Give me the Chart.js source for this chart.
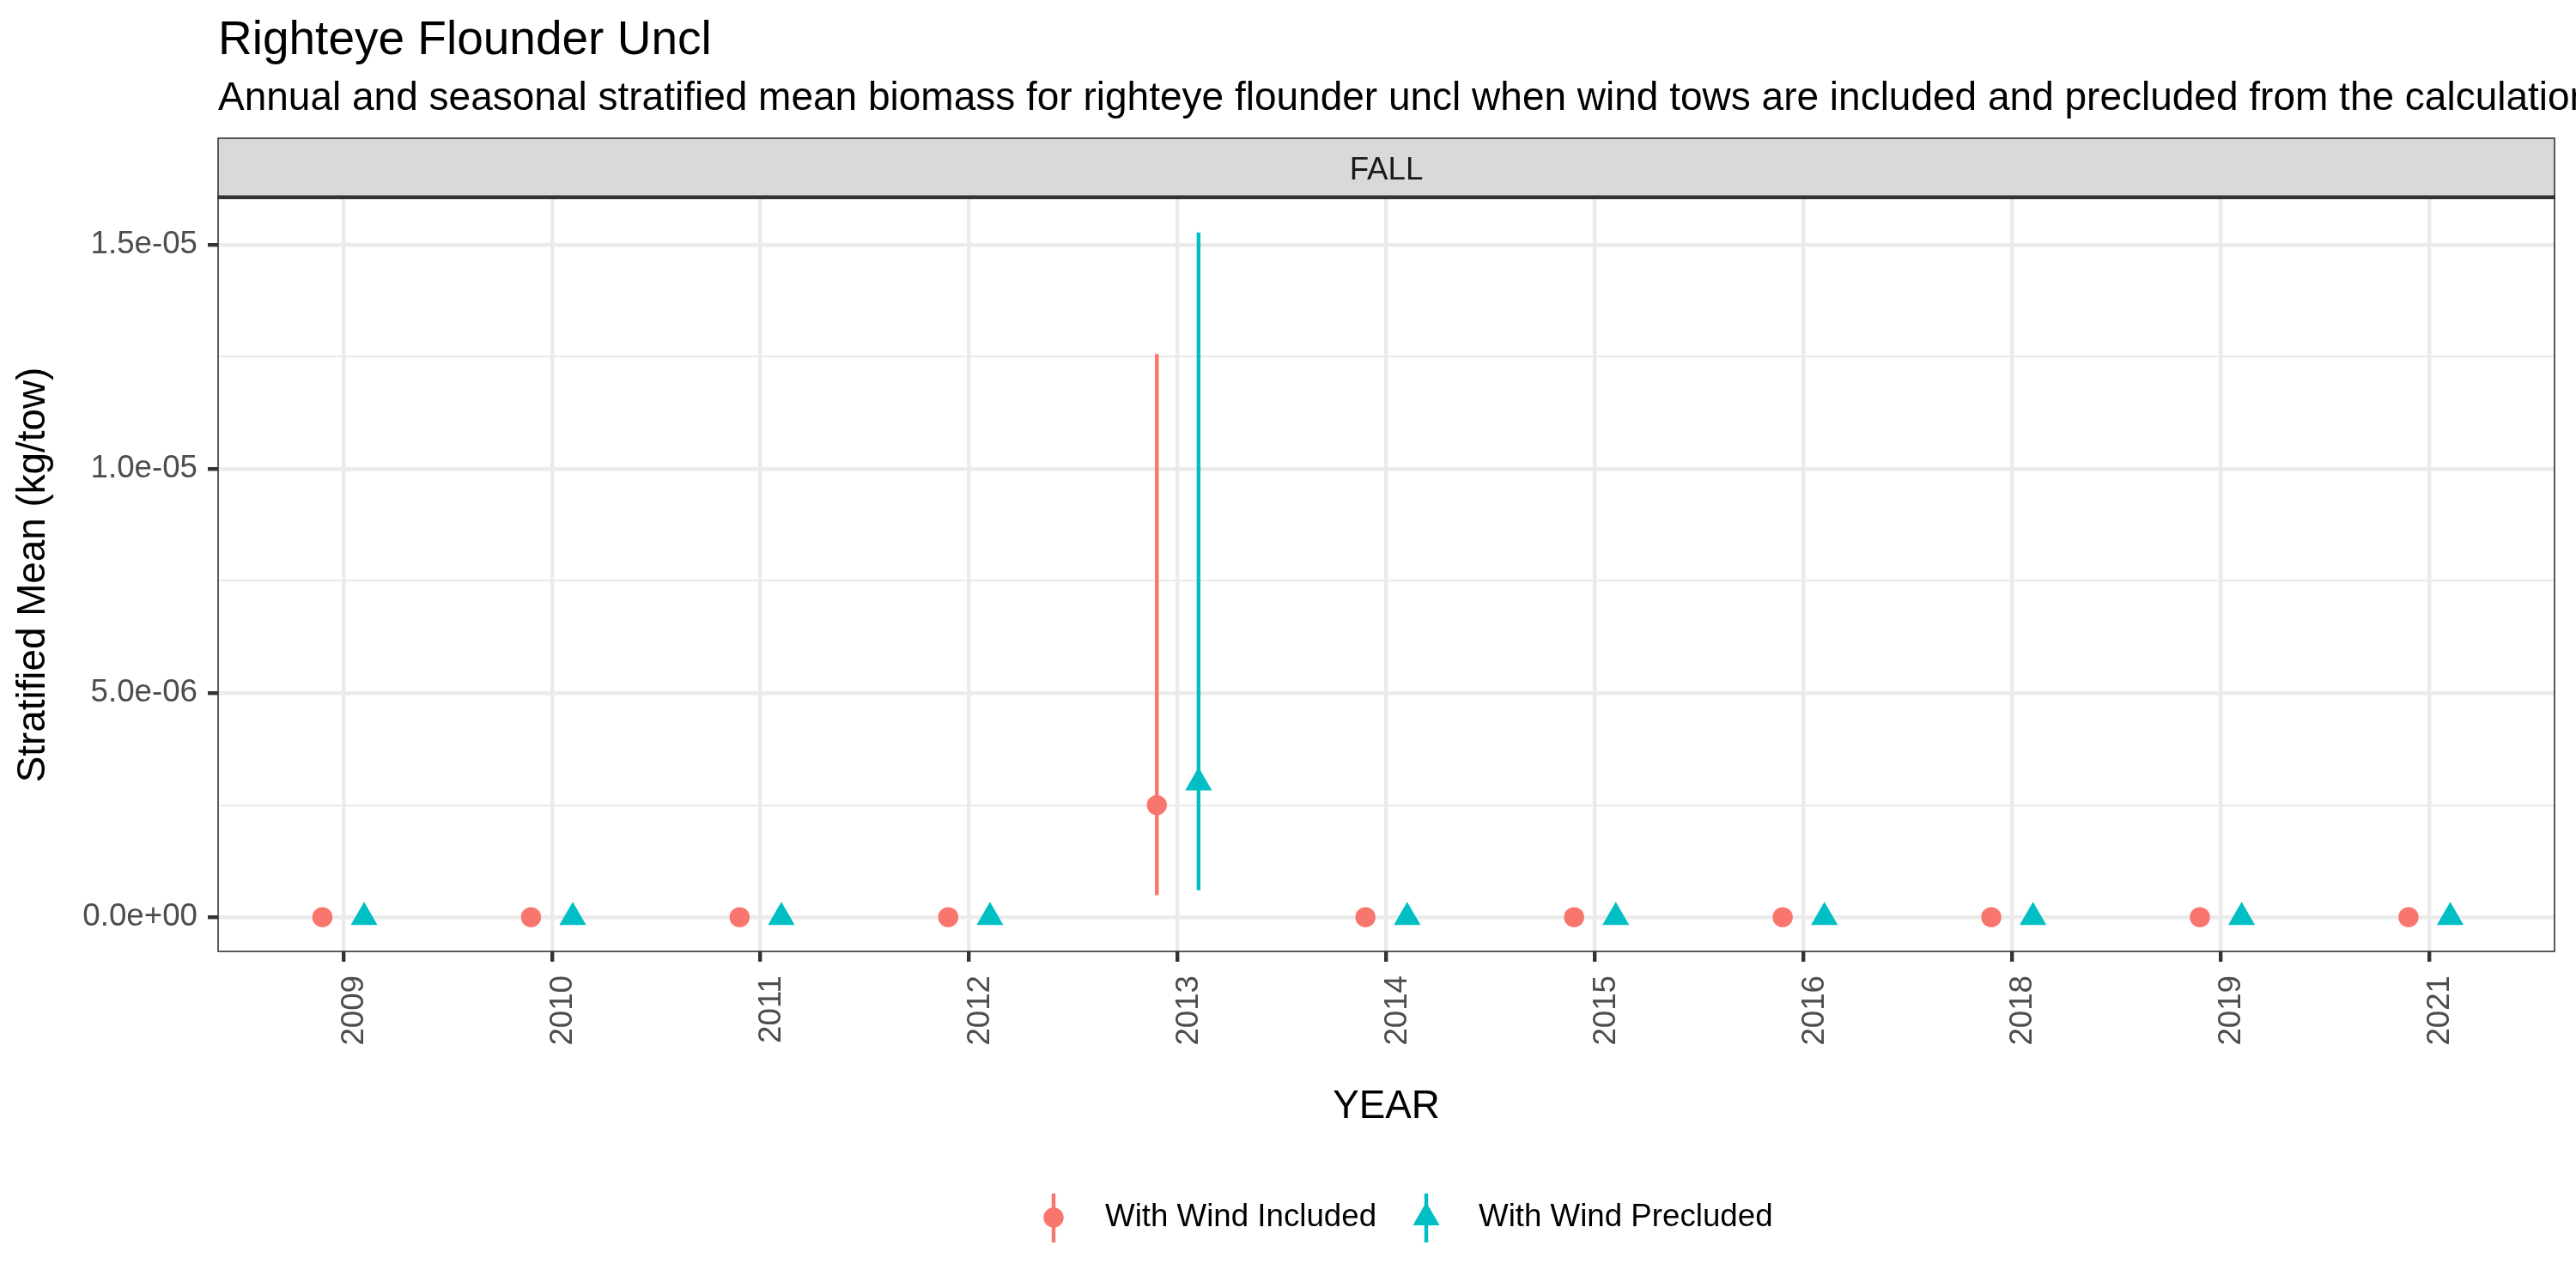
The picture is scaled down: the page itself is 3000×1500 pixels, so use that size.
<!DOCTYPE html>
<html>
<head>
<meta charset="utf-8">
<script src="https://cdn.jsdelivr.net/npm/chart.js@4.4.1/dist/chart.umd.min.js"></script>
<style>
  html, body { margin: 0; padding: 0; background: #ffffff; }
  #wrap { width: 3000px; height: 1500px; }
</style>
</head>
<body>
<div id="wrap"><canvas id="c" width="3000" height="1500"></canvas></div>
<script>
// ---------------- data ----------------
const chartTitle = 'Righteye Flounder Uncl';
const chartSubtitle = 'Annual and seasonal stratified mean biomass for righteye flounder uncl when wind tows are included and precluded from the calculation';
const facetLabel = 'FALL';
const xAxisTitle = 'YEAR';
const yAxisTitle = 'Stratified Mean (kg/tow)';
const seriesNames = ['With Wind Included', 'With Wind Precluded'];

const years = ['2009', '2010', '2011', '2012', '2013', '2014', '2015', '2016', '2018', '2019', '2021'];

const includedMean = [0, 0, 0, 0, 2.50e-6, 0, 0, 0, 0, 0, 0];
const includedLow  = [0, 0, 0, 0, 4.9e-7, 0, 0, 0, 0, 0, 0];
const includedHigh = [0, 0, 0, 0, 1.256e-5, 0, 0, 0, 0, 0, 0];

const precludedMean = [0, 0, 0, 0, 3.0e-6, 0, 0, 0, 0, 0, 0];
const precludedLow  = [0, 0, 0, 0, 6.0e-7, 0, 0, 0, 0, 0, 0];
const precludedHigh = [0, 0, 0, 0, 1.527e-5, 0, 0, 0, 0, 0, 0];

const yTickValues = [0, 5e-6, 1e-5, 1.5e-5];
const yTickLabels = ['0.0e+00', '5.0e-06', '1.0e-05', '1.5e-05'];
const yMinorValues = [2.5e-6, 7.5e-6, 1.25e-5];

// ---------------- styling ----------------
const FONT = '"Liberation Sans", Arial, Helvetica, sans-serif';
const RED = '#F8766D';
const TEAL = '#00BFC4';
const GRID = '#EBEBEB';
const DARK = '#333333';
const DODGE = 0.1;

// y range with 5% expansion as ggplot does
const allVals = [].concat(includedMean, includedLow, includedHigh, precludedMean, precludedLow, precludedHigh);
const dMin = Math.min.apply(null, allVals);
const dMax = Math.max.apply(null, allVals);
const yMin = dMin - 0.05 * (dMax - dMin);
const yMax = dMax + 0.05 * (dMax - dMin);

function isMajor(v) {
  return yTickValues.some(t => Math.abs(t - v) < 1e-12);
}

const decorPlugin = {
  id: 'decor',
  afterDraw(chart) {
    const ctx = chart.ctx;
    const a = chart.chartArea;
    ctx.save();
    // titles
    ctx.fillStyle = '#000000';
    ctx.textAlign = 'left';
    ctx.textBaseline = 'alphabetic';
    ctx.font = '55px ' + FONT;
    ctx.fillText(chartTitle, a.left, 63);
    ctx.font = '46px ' + FONT;
    ctx.fillText(chartSubtitle, a.left, 128);

    // facet strip
    const stripTop = a.top - 70;
    ctx.fillStyle = '#D9D9D9';
    ctx.fillRect(a.left, stripTop, a.right - a.left, a.top - stripTop);
    ctx.strokeStyle = DARK;
    ctx.lineWidth = 1.6;
    ctx.strokeRect(a.left, stripTop, a.right - a.left, a.top - stripTop);
    ctx.fillStyle = '#1A1A1A';
    ctx.textAlign = 'center';
    ctx.font = '36.7px ' + FONT;
    ctx.fillText(facetLabel, (a.left + a.right) / 2, a.top - 22);

    // panel border
    ctx.strokeStyle = DARK;
    ctx.lineWidth = 1.6;
    ctx.strokeRect(a.left, a.top, a.right - a.left, a.bottom - a.top);
    ctx.lineWidth = 4;
    ctx.beginPath();
    ctx.moveTo(a.left - 0.8, a.top - 1.5);
    ctx.lineTo(a.right + 0.8, a.top - 1.5);
    ctx.stroke();

    // legend
    const ly = 1418;
    const items = [
      { cx: 1227, tx: 1287, color: RED, shape: 'circle', label: seriesNames[0] },
      { cx: 1661, tx: 1722, color: TEAL, shape: 'triangle', label: seriesNames[1] }
    ];
    items.forEach(it => {
      ctx.strokeStyle = it.color;
      ctx.fillStyle = it.color;
      ctx.lineWidth = 4.4;
      ctx.beginPath();
      ctx.moveTo(it.cx, ly - 28);
      ctx.lineTo(it.cx, ly + 29);
      ctx.stroke();
      ctx.beginPath();
      if (it.shape === 'circle') {
        ctx.arc(it.cx, ly, 11.7, 0, Math.PI * 2);
      } else {
        const r = 18;
        ctx.moveTo(it.cx, ly - r);
        ctx.lineTo(it.cx + r * 0.866, ly + r / 2);
        ctx.lineTo(it.cx - r * 0.866, ly + r / 2);
        ctx.closePath();
      }
      ctx.fill();
      ctx.fillStyle = '#000000';
      ctx.textAlign = 'left';
      ctx.textBaseline = 'middle';
      ctx.font = '36.7px ' + FONT;
      ctx.fillText(it.label, it.tx, ly);
    });
    ctx.restore();
  }
};

const chart = new Chart(document.getElementById('c'), {
  type: 'scatter',
  data: {
    datasets: [
      {
        type: 'scatter',
        label: seriesNames[0],
        order: 0,
        data: years.map((y, i) => ({ x: i - DODGE, y: includedMean[i] })),
        pointStyle: 'circle',
        pointRadius: 11.7,
        pointHoverRadius: 11.7,
        pointBackgroundColor: RED,
        pointBorderWidth: 0,
        pointBorderColor: RED
      },
      {
        type: 'scatter',
        label: seriesNames[1],
        order: 0,
        data: years.map((y, i) => ({ x: i + DODGE, y: precludedMean[i] })),
        pointStyle: 'triangle',
        pointRadius: 18,
        pointHoverRadius: 18,
        pointBackgroundColor: TEAL,
        pointBorderWidth: 0,
        pointBorderColor: TEAL
      },
      {
        type: 'bar',
        label: seriesNames[0] + ' range',
        order: 1,
        data: years.map((y, i) => ({ x: i - DODGE, y: [includedLow[i], includedHigh[i]] })),
        backgroundColor: RED,
        borderWidth: 0,
        barThickness: 4.4,
        grouped: false,
        inflateAmount: 0
      },
      {
        type: 'bar',
        label: seriesNames[1] + ' range',
        order: 1,
        data: years.map((y, i) => ({ x: i + DODGE, y: [precludedLow[i], precludedHigh[i]] })),
        backgroundColor: TEAL,
        borderWidth: 0,
        barThickness: 4.4,
        grouped: false,
        inflateAmount: 0
      }
    ]
  },
  options: {
    responsive: false,
    devicePixelRatio: 1,
    animation: false,
    events: [],
    layout: { padding: { left: 0, top: 231, right: 25, bottom: 0 } },
    plugins: {
      legend: { display: false },
      tooltip: { enabled: false },
      title: { display: false }
    },
    scales: {
      x: {
        type: 'linear',
        min: -0.6,
        max: years.length - 1 + 0.6,
        offset: false,
        afterBuildTicks: (scale) => { scale.ticks = years.map((y, i) => ({ value: i })); },
        afterFit: (scale) => { scale.height = 392; },
        grid: {
          offset: false,
          color: GRID,
          lineWidth: 4.4,
          drawTicks: true,
          tickLength: 12,
          tickColor: DARK,
          tickWidth: 4.4
        },
        border: { display: false },
        ticks: {
          autoSkip: false,
          minRotation: 90,
          maxRotation: 90,
          padding: 16,
          labelOffset: 13,
          color: '#4D4D4D',
          font: { family: FONT, size: 36.7 },
          callback: (v) => years[Math.round(v)]
        },
        title: {
          display: true,
          text: xAxisTitle,
          color: '#000000',
          font: { family: FONT, size: 45.8 },
          padding: { top: 0, bottom: 183.5 }
        }
      },
      y: {
        type: 'linear',
        min: yMin,
        max: yMax,
        afterBuildTicks: (scale) => {
          scale.ticks = yTickValues.concat(yMinorValues).sort((p, q) => p - q).map(v => ({ value: v }));
        },
        afterFit: (scale) => { scale.width = 254; },
        grid: {
          offset: false,
          color: GRID,
          lineWidth: (c) => (c.tick && isMajor(c.tick.value)) ? 4.4 : 2.2,
          drawTicks: true,
          tickLength: 12,
          tickColor: (c) => (c.tick && isMajor(c.tick.value)) ? DARK : 'rgba(0,0,0,0)',
          tickWidth: (c) => (c.tick && isMajor(c.tick.value)) ? 4.4 : 0
        },
        border: { display: false },
        ticks: {
          autoSkip: false,
          padding: 12,
          color: '#4D4D4D',
          font: { family: FONT, size: 36.7 },
          callback: (v) => {
            const k = yTickValues.findIndex(t => Math.abs(t - v) < 1e-12);
            return k >= 0 ? yTickLabels[k] : '';
          }
        },
        title: {
          display: true,
          text: yAxisTitle,
          color: '#000000',
          font: { family: FONT, size: 45.8 },
          padding: { top: 11.5, bottom: 0 }
        }
      }
    }
  },
  plugins: [decorPlugin]
});
</script>
</body>
</html>
